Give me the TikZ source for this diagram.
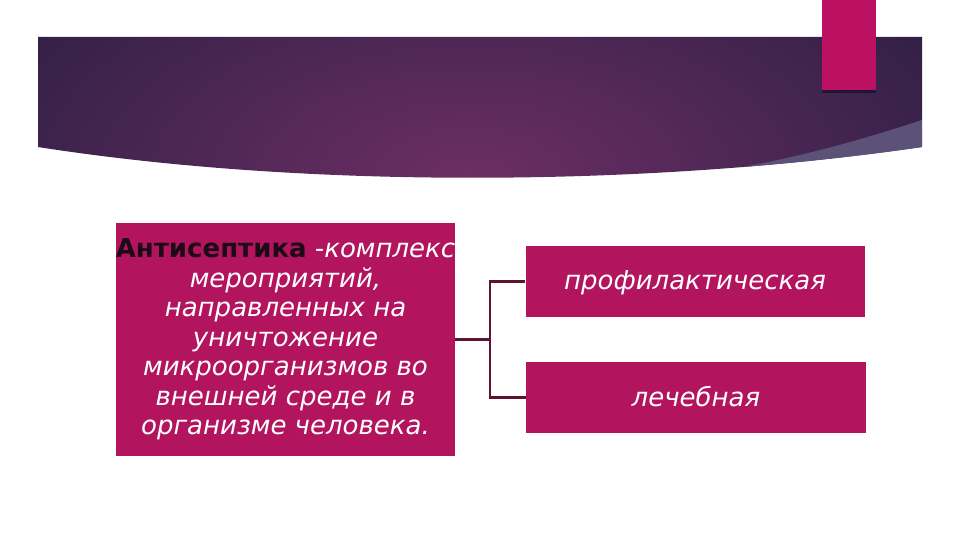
\documentclass[tikz,border=0pt]{standalone}
\usepackage{fontspec}
\setmainfont{DejaVu Sans}
\usetikzlibrary{positioning}
\definecolor{boxpink}{HTML}{B2145E}
\definecolor{toppink}{HTML}{BC1062}
\definecolor{linkred}{HTML}{5E1234}
\definecolor{bannermid}{HTML}{6C2E64}
\definecolor{bannerdark}{HTML}{241D40}
\definecolor{stripgrey}{HTML}{5C5279}
\definecolor{boldink}{HTML}{1C0A16}
\tikzset{
  pinkbox/.style={fill=boxpink, inner sep=0pt, text=white, align=center,
    font=\itshape\fontsize{26}{29.5}\selectfont},
  link/.style={draw=linkred, line width=2.2pt}
}
\begin{document}
\begin{tikzpicture}[x=1pt, y=-1pt]
\useasboundingbox (0,0) rectangle (960,540);
% banner
\begin{scope}
\clip (38,37) -- (922,37) -- (922,147) .. controls (640,188) and (300,188) .. (38,147) -- cycle;
\shade[inner color=bannermid, outer color=bannerdark] (470,175) ellipse [x radius=660, y radius=330];
\fill[stripgrey] (922,120) .. controls (800,160) and (720,175) .. (560,192) -- (922,192) -- cycle;
\end{scope}
\fill[bannerdark!80!black] (822,90) rectangle (876,93);
\fill[toppink] (822,0) rectangle (876,90);
% boxes
\node[pinkbox, minimum width=339, minimum height=233] (antiseptic) at (285.5,339.5)
  {{\upshape\bfseries\color{boldink}Антисептика} -комплекс\\мероприятий,\\направленных на\\уничтожение\\микроорганизмов во\\внешней среде и в\\организме человека.};
\node[pinkbox, minimum width=339, minimum height=71, text depth=2pt] (prophyl) at (695,281.5) {профилактическая};
\node[pinkbox, minimum width=340, minimum height=71, text depth=2pt] (curative) at (696,397.5) {лечебная};
% connectors
\draw[link] (antiseptic.east) -- ++(35,0) coordinate (fork);
\draw[link] (prophyl.west) -| (fork) |- (curative.west);
\end{tikzpicture}
\end{document}
